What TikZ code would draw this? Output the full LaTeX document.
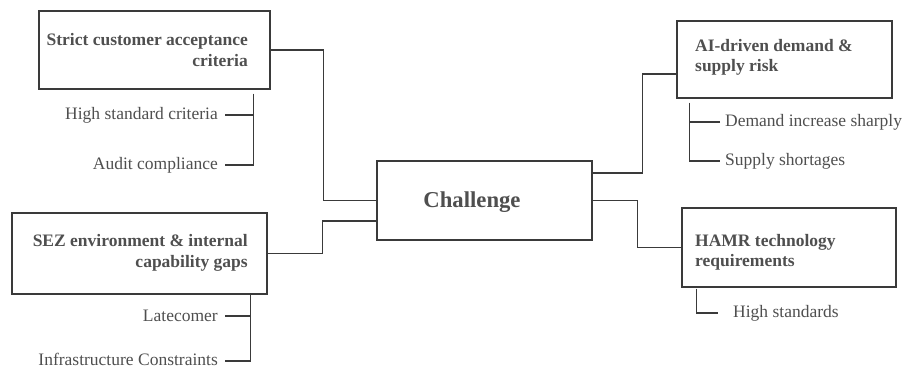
\documentclass[tikz,border=0pt]{standalone}
\usepackage{fontspec}
\setmainfont{Liberation Serif}
\usepackage{xcolor}
\usetikzlibrary{calc,positioning}

\definecolor{linegray}{HTML}{3A3A3A}
\definecolor{textgray}{HTML}{4F4F4F}

\begin{document}
\begin{tikzpicture}[x=1pt, y=-1pt,
    box/.style={draw=linegray, line width=1.2pt, inner sep=0pt},
    headtext/.style={text=textgray, inner sep=0pt, font=\fontsize{17.5}{20.5}\selectfont\bfseries},
    itemtext/.style={text=textgray, inner sep=0pt, font=\fontsize{17.5}{20.5}\selectfont},
    link/.style={draw=linegray, line width=1.2pt}
]
    \useasboundingbox (0,0) rectangle (905,370);

    \node[box, minimum width=215pt, minimum height=79pt] (chal) at (484.5, 200.5) {};
    \node[headtext, font=\fontsize{22.7}{26}\selectfont\bfseries] (challbl) at (472, 202) {Challenge};

    \node[box, minimum width=231pt, minimum height=78pt] (strict) at (154.5, 50) {};
    \node[headtext, align=right, anchor=east] (strictlbl) at (248, 50) {Strict customer acceptance\\criteria};
    \node[itemtext, anchor=east] (hsc) at (218, 115) {High standard criteria};
    \node[itemtext, anchor=east] (audit) at (218, 165) {Audit compliance};

    \node[box, minimum width=255pt, minimum height=81pt] (sez) at (139.5, 253.5) {};
    \node[headtext, align=right, anchor=east] (sezlbl) at (248, 253) {SEZ environment \& internal\\capability gaps};
    \node[itemtext, anchor=east] (late) at (218, 316) {Latecomer};
    \node[itemtext, anchor=east] (infra) at (218, 359) {Infrastructure Constraints};

    \node[box, minimum width=215pt, minimum height=77pt] (ai) at (784.5, 59.5) {};
    \node[headtext, align=left, anchor=west] (ailbl) at (695, 57.5) {AI-driven demand \&\\supply risk};
    \node[itemtext, anchor=west] (demand) at (725, 122) {Demand increase sharply};
    \node[itemtext, anchor=west] (supply) at (725, 161) {Supply shortages};

    \node[box, minimum width=214pt, minimum height=79pt] (hamr) at (789, 247.5) {};
    \node[headtext, align=left, anchor=west] (hamrlbl) at (695, 252.5) {HAMR technology\\requirements};
    \node[itemtext, anchor=west] (hstd) at (733, 313) {High standards};

    \draw[link] (strict.east) -- ++(53,0) |- (chal.west);
    \draw[link] (sez.east) -- ++(55,0) |- ([yshift=-20.5pt]chal.west);
    \draw[link] ([yshift=27.5pt]chal.east) -- ++(50,0) |- ([yshift=-14.5pt]ai.west);
    \draw[link] (chal.east) -- ++(45,0) |- (hamr.west);

    \draw[link] ([shift={(-17pt,-4pt)}]strict.south east) |- ([xshift=7pt]audit.east);
    \draw[link] ([xshift=7pt]hsc.east) -- ++(28,0);
    \draw[link] ([xshift=-17pt]sez.south east) |- ([shift={(7pt,-2pt)}]infra.east);
    \draw[link] ([xshift=7pt]late.east) -- ++(25,0);
    \draw[link] ([shift={(13pt,-4pt)}]ai.south west) |- ([xshift=-5pt]supply.west);
    \draw[link] ([xshift=-5pt]demand.west) -- ++(-30,0);
    \draw[link] ([shift={(15pt,-1pt)}]hamr.south west) |- ([xshift=-15pt]hstd.west);
\end{tikzpicture}
\end{document}
